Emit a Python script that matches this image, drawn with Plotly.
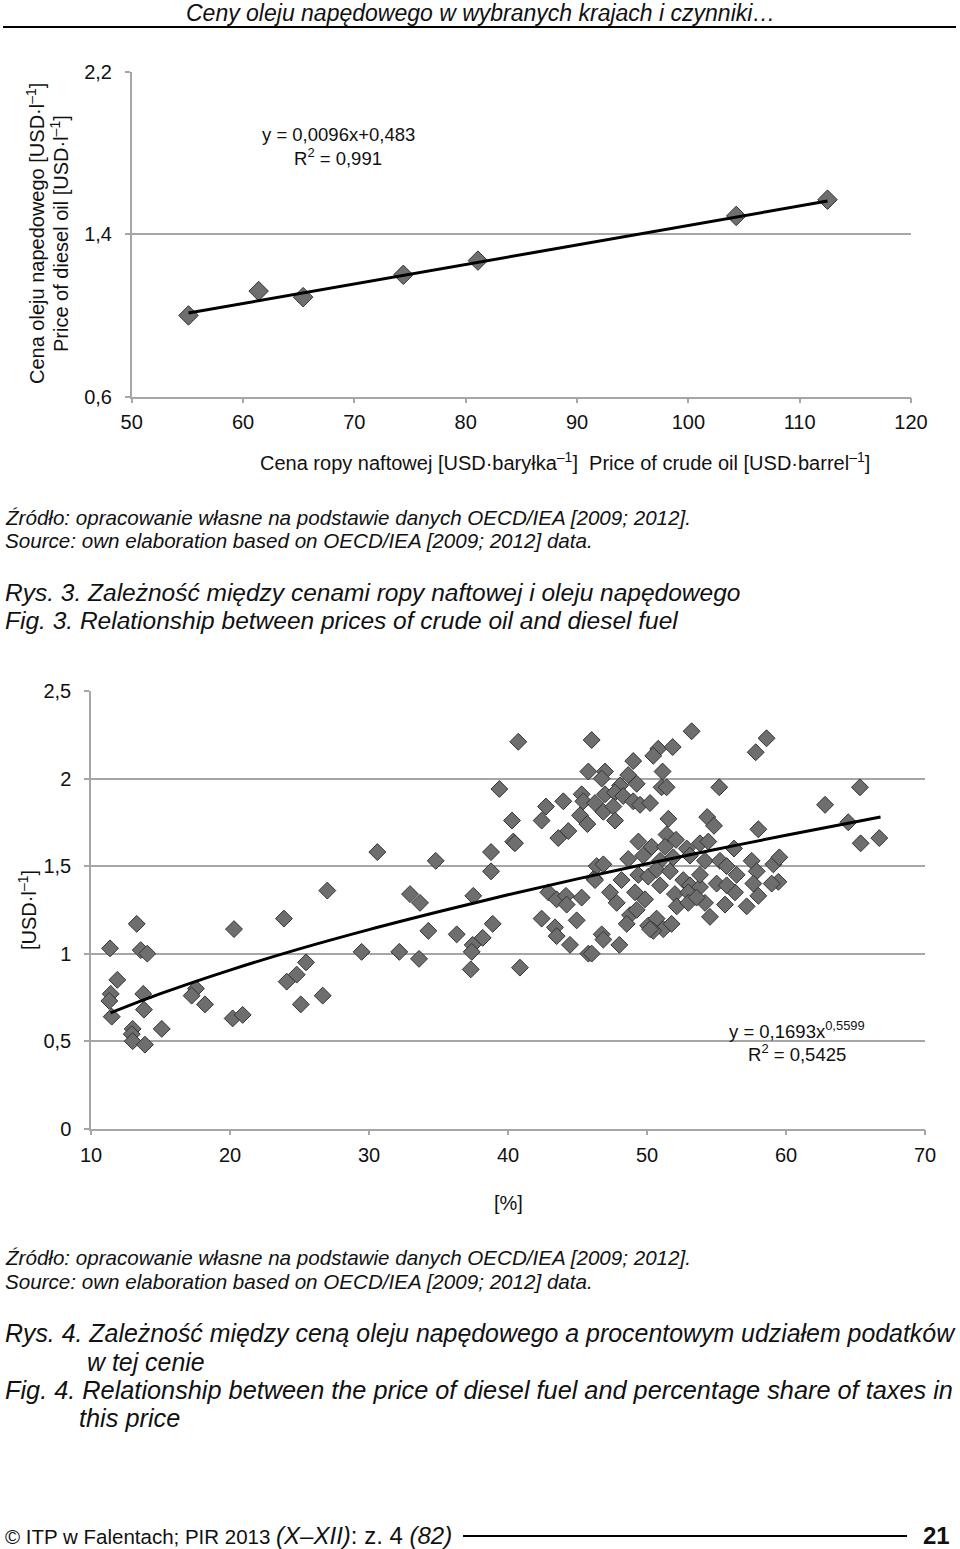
import plotly.graph_objects as go

W, H = 960, 1549

# Fig. 3 - crude oil price vs diesel price
oil_price = [55.1, 61.4, 65.4, 74.4, 81.1, 104.3, 112.5]
diesel_price = [1.00, 1.12, 1.09, 1.20, 1.27, 1.49, 1.57]
lin_trend_x = [55.1, 112.5]
lin_trend_y = [1.012, 1.563]

# Fig. 4 - tax share [%] vs diesel price
tax_share = [
    11.37, 13.29, 13.58, 14.05, 11.89, 11.42, 11.32, 11.49, 13.76, 13.81,
    13.00, 12.93, 13.00, 13.88, 15.09, 17.55, 17.24, 18.20, 20.29, 20.19,
    20.91, 23.88, 24.08, 24.80, 25.47, 25.09, 26.67, 27.00,
    40.74, 46.02, 45.78, 39.38, 40.29, 40.38, 40.50, 30.60, 34.80, 38.78,
    38.78, 32.95, 33.67, 37.50, 34.27, 36.31, 38.90, 38.18, 37.46, 37.39,
    29.47, 32.18, 33.60, 37.32, 40.86, 42.73, 42.42, 43.98, 43.62, 44.34,
    45.30, 45.42, 45.18, 45.71, 42.90, 43.50, 44.17, 44.22, 45.30, 42.42,
    43.38, 44.94, 43.50, 44.46, 45.78, 46.19, 46.38,
    53.21, 58.60, 57.82, 50.81, 50.45, 51.85, 49.01, 46.98, 46.74, 48.65,
    51.12, 51.05, 51.41, 55.20, 65.32, 62.81, 48.06, 49.26, 46.98, 47.70,
    48.29, 46.26, 46.86, 47.58, 47.70, 49.01, 49.50, 50.22, 51.54, 54.33,
    54.82, 58.01, 64.48, 65.37, 66.71, 49.38, 50.34, 51.41, 51.29, 52.09,
    52.86, 53.81, 54.41, 56.26, 46.86, 48.65, 49.73, 50.94, 51.89, 53.09,
    54.17, 55.25, 57.53, 59.09, 59.52, 46.26, 48.17, 49.38, 50.09, 50.69,
    51.65, 52.61, 53.09, 53.81, 55.01, 55.73, 56.45, 57.89, 59.45, 47.34,
    47.82, 49.14, 49.86, 50.94, 52.01, 52.97, 54.17, 55.61, 56.33, 57.17,
    58.01, 48.78, 49.26, 50.09, 50.69, 51.17, 51.77, 50.45, 52.14, 52.97,
    53.57, 54.53, 46.74, 46.86, 48.01, 46.02, 48.54, 53.81, 55.73, 57.65,
    58.97, 50.22,
]
diesel_price_tax = [
    1.03, 1.17, 1.02, 1.00, 0.85, 0.77, 0.73, 0.64, 0.77, 0.68,
    0.57, 0.54, 0.50, 0.48, 0.57, 0.80, 0.76, 0.71, 1.14, 0.63,
    0.65, 1.20, 0.84, 0.88, 0.95, 0.71, 0.76, 1.36,
    2.21, 2.22, 2.04, 1.94, 1.76, 1.64, 1.63, 1.58, 1.53, 1.58,
    1.47, 1.34, 1.29, 1.33, 1.13, 1.11, 1.17, 1.09, 1.05, 1.01,
    1.01, 1.01, 0.97, 0.91, 0.92, 1.84, 1.76, 1.87, 1.66, 1.70,
    1.91, 1.87, 1.79, 1.74, 1.35, 1.31, 1.33, 1.28, 1.32, 1.20,
    1.15, 1.19, 1.10, 1.05, 1.00, 1.43, 1.50,
    2.27, 2.23, 2.15, 2.17, 2.13, 2.18, 2.10, 2.04, 2.00, 2.02,
    2.04, 1.95, 1.95, 1.95, 1.95, 1.85, 1.96, 1.97, 1.91, 1.92,
    1.90, 1.86, 1.81, 1.84, 1.76, 1.87, 1.85, 1.86, 1.77, 1.78,
    1.73, 1.71, 1.75, 1.63, 1.66, 1.64, 1.61, 1.68, 1.61, 1.65,
    1.60, 1.63, 1.64, 1.60, 1.51, 1.54, 1.56, 1.53, 1.55, 1.56,
    1.53, 1.53, 1.53, 1.51, 1.55, 1.42, 1.42, 1.45, 1.44, 1.48,
    1.47, 1.42, 1.39, 1.38, 1.40, 1.50, 1.45, 1.47, 1.41, 1.35,
    1.29, 1.35, 1.31, 1.39, 1.34, 1.35, 1.29, 1.28, 1.35, 1.27,
    1.33, 1.22, 1.25, 1.16, 1.20, 1.14, 1.17, 1.13, 1.27, 1.29,
    1.32, 1.21, 1.11, 1.08, 1.05, 1.00, 1.17, 1.45, 1.39, 1.40,
    1.40, 1.14,
]
pow_trend_x = [11.4, 15, 20, 25, 30, 35, 40, 45, 50, 55, 60, 66.8]
pow_trend_y = [0.661, 0.771, 0.906, 1.027, 1.137, 1.239, 1.336, 1.427, 1.513, 1.596, 1.676, 1.780]

FONT = "Liberation Sans, Arial, sans-serif"
GRID = "#A6A6A6"
MARKER = dict(symbol="diamond", size=15, color="#6E6E6E", line=dict(color="#333333", width=1))


def px(x, y):
    return x / W, 1 - y / H


fig = go.Figure()
fig.add_trace(go.Scatter(x=oil_price, y=diesel_price, mode="markers", marker=MARKER,
                         xaxis="x", yaxis="y", showlegend=False))
fig.add_trace(go.Scatter(x=lin_trend_x, y=lin_trend_y, mode="lines",
                         line=dict(color="black", width=3), xaxis="x", yaxis="y", showlegend=False))
fig.add_trace(go.Scatter(x=tax_share, y=diesel_price_tax, mode="markers",
                         marker={**MARKER, "size": 13}, xaxis="x2", yaxis="y2", showlegend=False))
fig.add_trace(go.Scatter(x=pow_trend_x, y=pow_trend_y, mode="lines",
                         line=dict(color="black", width=3, shape="spline"),
                         xaxis="x2", yaxis="y2", showlegend=False))

axis_common = dict(
    showline=True, linecolor=GRID, linewidth=1.5, ticks="outside", ticklen=5,
    tickcolor=GRID, tickwidth=1.5, tickfont=dict(family=FONT, size=20, color="#111"),
    zeroline=False, fixedrange=True, automargin=False,
)

fig.update_layout(
    template="none",
    width=W, height=H,
    margin=dict(l=0, r=0, t=0, b=0, pad=0, autoexpand=False),
    paper_bgcolor="white", plot_bgcolor="white",
    separators=", ",
    font=dict(family=FONT, color="#111"),
    xaxis=dict(domain=[131.7 / W, 911 / W], range=[50, 120], dtick=10, showgrid=False,
               anchor="y", ticklabelstandoff=2, **axis_common),
    yaxis=dict(domain=[1 - 396.7 / H, 1 - 71.7 / H], range=[0.6, 2.2], tick0=0.6, dtick=0.8,
               showgrid=True, gridcolor=GRID, gridwidth=1.5, anchor="x",
               ticklabelstandoff=9, **axis_common),
    xaxis2=dict(domain=[91 / W, 925 / W], range=[10, 70], dtick=10, showgrid=False,
                anchor="y2", ticklabelstandoff=3, **axis_common),
    yaxis2=dict(domain=[1 - 1128.7 / H, 1 - 691 / H], range=[0, 2.5], dtick=0.5,
                showgrid=True, gridcolor=GRID, gridwidth=1.5, anchor="x2",
                ticklabelstandoff=9, **axis_common),
)

notes = []


def note(text, x, y, size=20, xanchor="left", angle=0, italic=False):
    ax, ay = px(x, y)
    if italic:
        text = f"<i>{text}</i>"
    notes.append(dict(text=text, x=ax, y=ay, xref="paper", yref="paper", showarrow=False,
                      xanchor=xanchor, yanchor="middle", textangle=angle,
                      font=dict(family=FONT, size=size, color="#111")))


# page header
note("Ceny oleju napędowego w wybranych krajach i czynniki…", 480, 13, size=23,
     xanchor="center", italic=True)

# figure 3 texts
note("Cena oleju napedowego [USD·l<sup>–1</sup>]", 35, 234, xanchor="center", angle=-90)
note("Price of diesel oil [USD·l<sup>–1</sup>]", 59, 234, xanchor="center", angle=-90)
note("y = 0,0096x+0,483", 338, 134, size=18.5, xanchor="center")
note("R<sup>2</sup> = 0,991", 338, 157, size=18.5, xanchor="center")
note("Cena ropy naftowej [USD·baryłka<sup>–1</sup>]  Price of crude oil [USD·barrel<sup>–1</sup>]",
     565, 461, xanchor="center")
note("Źródło: opracowanie własne na podstawie danych OECD/IEA [2009; 2012].", 3, 517,
     size=20.6, italic=True)
note("Source: own elaboration based on OECD/IEA [2009; 2012] data.", 3, 541,
     size=20.6, italic=True)
note("Rys. 3. Zależność między cenami ropy naftowej i oleju napędowego", 3, 592,
     size=24.5, italic=True)
note("Fig. 3. Relationship between prices of crude oil and diesel fuel", 3, 620,
     size=24.5, italic=True)

# figure 4 texts
note("[USD·l<sup>–1</sup>]", 27, 910, xanchor="center", angle=-90)
note("y = 0,1693x<sup>0,5599</sup>", 797, 1030, size=18.5, xanchor="center")
note("R<sup>2</sup> = 0,5425", 797, 1053, size=18.5, xanchor="center")
note("[%]", 508, 1203, xanchor="center")
note("Źródło: opracowanie własne na podstawie danych OECD/IEA [2009; 2012].", 3, 1257,
     size=20.6, italic=True)
note("Source: own elaboration based on OECD/IEA [2009; 2012] data.", 3, 1281,
     size=20.6, italic=True)
note("Rys. 4. Zależność między ceną oleju napędowego a procentowym udziałem podatków", 3, 1333,
     size=24.9, italic=True)
note("w tej cenie", 85, 1362, size=24.9, italic=True)
note("Fig. 4. Relationship between the price of diesel fuel and percentage share of taxes in",
     3, 1390, size=25.3, italic=True)
note("this price", 77, 1418, size=25.3, italic=True)

# footer
note("© ITP w Falentach; PIR 2013 <span style='font-size:24px'><i>(X–XII)</i>: z. 4 <i>(82)</i></span>",
     3, 1535, size=20.5)
note("<b>21</b>", 952, 1535, size=24, xanchor="right")

fig.update_layout(annotations=notes)

lines = [(3, 27, 956, 27), (463, 1536, 907, 1536)]
fig.update_layout(shapes=[
    dict(type="line", xref="paper", yref="paper",
         x0=px(a, b)[0], y0=px(a, b)[1], x1=px(c, d)[0], y1=px(c, d)[1],
         line=dict(color="black", width=2))
    for a, b, c, d in lines
])

fig.write_html("out.html", config={"displayModeBar": False},
               post_script="document.body.style.margin='0px';")
